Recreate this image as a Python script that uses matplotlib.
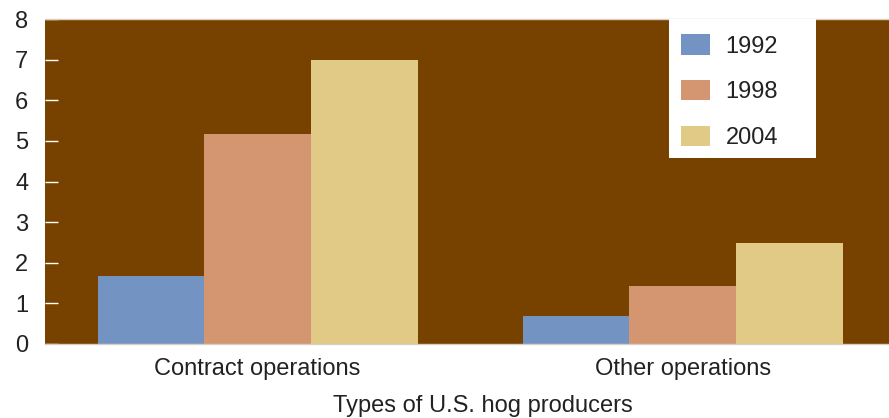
import matplotlib.pyplot as plt
import matplotlib.patches as mpatches
import numpy as np

# data
categories = ["Contract operations", "Other operations"]
years = ["1992", "1998", "2004"]
v1992 = [1.67, 0.69]
v1998 = [5.17, 1.43]
v2004 = [7.0, 2.49]
colors = ["#7394c2", "#d39670", "#e0ca85"]

plt.rcParams['font.family'] = ['Liberation Sans', 'DejaVu Sans']
fs = 17

fig = plt.figure(figsize=(8.89, 4.18), dpi=100)
ax = fig.add_axes([45/889, 1-344/418, 844/889, 325/418])
ax.set_facecolor("#774100")

x = np.arange(len(categories))
w = 0.251
for i, (vals, lab) in enumerate(zip([v1992, v1998, v2004], years)):
    ax.bar(x + (i-1)*w, vals, w, color=colors[i], label=lab)

ax.set_xlim(-0.5, 1.485)
ax.set_ylim(0, 8)
ax.set_xticks(x)
ax.set_xticklabels(categories)
ax.set_yticks(range(0, 9))
ax.tick_params(axis='y', direction='in', length=9, width=1, color='white',
               labelsize=fs, labelcolor='#222222', pad=12)
ax.tick_params(axis='x', length=0, labelsize=fs, labelcolor='#222222', pad=10)
for s in ['left', 'right']:
    ax.spines[s].set_visible(False)
for s in ['top', 'bottom']:
    ax.spines[s].set_color('#d8cfc4')
    ax.spines[s].set_linewidth(1)

ax.set_xlabel("Types of U.S. hog producers", fontsize=fs, color='#222222')
ax.xaxis.set_label_coords(0.519, -0.158)

# white legend box
box = mpatches.Rectangle((624/844, 1-139/325), 147/844, 139/325, transform=ax.transAxes,
                         facecolor='white', edgecolor='none', zorder=4, clip_on=False)
ax.add_patch(box)
leg = ax.legend(loc='upper left', bbox_to_anchor=(621/844, 1.0), fontsize=fs,
                frameon=False, borderaxespad=0, handlelength=1.23,
                handleheight=0.95, labelspacing=0.95, borderpad=0.65, handletextpad=0.65)
leg.set_zorder(5)
for t in leg.get_texts():
    t.set_color('#222222')

fig.savefig("out.png", dpi=100)
